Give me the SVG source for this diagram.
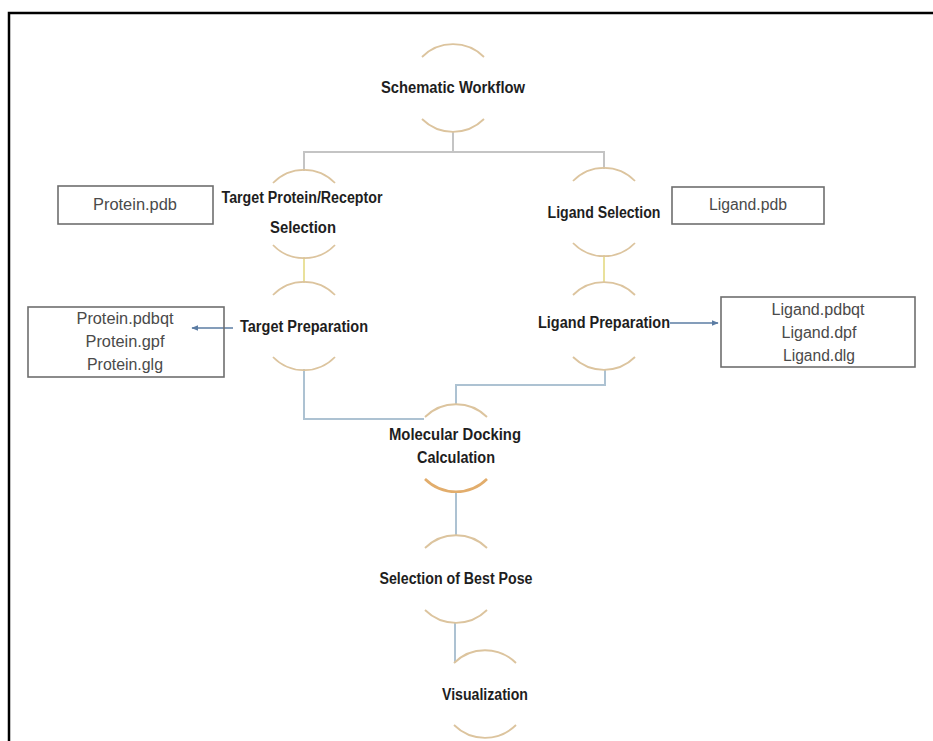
<svg xmlns="http://www.w3.org/2000/svg" width="933" height="741" viewBox="0 0 933 741">
<style>
.arc{fill:none;stroke:#dcc49e;stroke-width:1.8}
.arco{fill:none;stroke:#e2ad6c;stroke-width:2.6}
.t{font-family:"Liberation Sans",Arial,sans-serif;font-weight:bold;font-size:16px;fill:#1e1e1e;text-anchor:middle}
.r{font-family:"Liberation Sans",Arial,sans-serif;font-size:16px;fill:#4a4a4a;text-anchor:middle}
.box{fill:none;stroke:#6e6e6e;stroke-width:1.6}
.cg{fill:none;stroke:#c4c4c4;stroke-width:2}
.cy{fill:none;stroke:#e9e19c;stroke-width:2}
.cb{fill:none;stroke:#adc2d2;stroke-width:2}
.ca{fill:none;stroke:#5b7ca3;stroke-width:1.4}
</style>
<defs>
<marker id="ah" viewBox="0 0 10 10" refX="9" refY="5" markerWidth="7" markerHeight="7" orient="auto-start-reverse" markerUnits="userSpaceOnUse">
<path d="M0,1 L10,5 L0,9 z" fill="#5b7ca3"/>
</marker>
</defs>
<rect x="0" y="0" width="933" height="741" fill="#fff"/>
<path d="M9,741 V13 H933" fill="none" stroke="#000" stroke-width="2.5"/>

<g id="connectors">
<path class="cg" d="M453,132 V152 M304,171 V152 H604 V169"/>
<path class="cy" d="M304,257 V283"/>
<path class="cy" d="M604,255 V282"/>
<path class="cb" d="M304,369 V419 H424"/>
<path class="cb" d="M605,369 V385 H456 V404"/>
<path class="cb" d="M456,492 V535"/>
<path class="cb" d="M455,623 V663"/>
<line class="ca" x1="233" y1="328" x2="192" y2="328" marker-end="url(#ah)"/>
<line class="ca" x1="670" y1="323" x2="718" y2="323" marker-end="url(#ah)"/>
</g>

<g id="schematic-workflow">
<path class="arc" d="M422,57 A44,44 0 0 1 484,57"/>
<path class="arc" d="M422,119 A44,44 0 0 0 484,119"/>
<text class="t" x="453" y="93" textLength="144" lengthAdjust="spacingAndGlyphs">Schematic Workflow</text>
</g>

<g id="target-protein-selection">
<path class="arc" d="M273,183 A43,43 0 0 1 335,183"/>
<path class="arc" d="M273,245 A43,43 0 0 0 335,245"/>
<text class="t" x="302" y="203" textLength="161" lengthAdjust="spacingAndGlyphs">Target Protein/Receptor</text>
<text class="t" x="303" y="233" textLength="66" lengthAdjust="spacingAndGlyphs">Selection</text>
</g>

<g id="protein-pdb">
<rect class="box" x="58" y="186" width="155" height="38"/>
<text class="r" x="135" y="210" textLength="84" lengthAdjust="spacingAndGlyphs">Protein.pdb</text>
</g>

<g id="ligand-selection">
<path class="arc" d="M573,181 A43,43 0 0 1 635,181"/>
<path class="arc" d="M573,243 A43,43 0 0 0 635,243"/>
<text class="t" x="604" y="218" textLength="113" lengthAdjust="spacingAndGlyphs">Ligand Selection</text>
</g>

<g id="ligand-pdb">
<rect class="box" x="672" y="187" width="152" height="37"/>
<text class="r" x="748" y="210" textLength="78" lengthAdjust="spacingAndGlyphs">Ligand.pdb</text>
</g>

<g id="target-preparation">
<path class="arc" d="M273,295 A43,43 0 0 1 335,295"/>
<path class="arc" d="M273,357 A43,43 0 0 0 335,357"/>
<text class="t" x="304" y="332" textLength="128" lengthAdjust="spacingAndGlyphs">Target Preparation</text>
</g>

<g id="protein-files">
<rect class="box" x="28" y="307" width="196" height="70"/>
<text class="r" x="125" y="324" textLength="97" lengthAdjust="spacingAndGlyphs">Protein.pdbqt</text>
<text class="r" x="125" y="347" textLength="79" lengthAdjust="spacingAndGlyphs">Protein.gpf</text>
<text class="r" x="125" y="370" textLength="76" lengthAdjust="spacingAndGlyphs">Protein.glg</text>
</g>

<g id="ligand-preparation">
<path class="arc" d="M573,295 A44,44 0 0 1 635,295"/>
<path class="arc" d="M573,357 A44,44 0 0 0 635,357"/>
<text class="t" x="604" y="328" textLength="132" lengthAdjust="spacingAndGlyphs">Ligand Preparation</text>
</g>

<g id="ligand-files">
<rect class="box" x="721" y="297" width="194" height="70"/>
<text class="r" x="818" y="315" textLength="93" lengthAdjust="spacingAndGlyphs">Ligand.pdbqt</text>
<text class="r" x="819" y="338" textLength="75" lengthAdjust="spacingAndGlyphs">Ligand.dpf</text>
<text class="r" x="819" y="361" textLength="72" lengthAdjust="spacingAndGlyphs">Ligand.dlg</text>
</g>

<g id="molecular-docking">
<path class="arc" d="M425,417 A44,44 0 0 1 487,417"/>
<path class="arco" d="M425,479 A44,44 0 0 0 487,479"/>
<text class="t" x="455" y="440" textLength="132" lengthAdjust="spacingAndGlyphs">Molecular Docking</text>
<text class="t" x="456" y="463" textLength="78" lengthAdjust="spacingAndGlyphs">Calculation</text>
</g>

<g id="best-pose">
<path class="arc" d="M425,548 A44,44 0 0 1 487,548"/>
<path class="arc" d="M425,610 A44,44 0 0 0 487,610"/>
<text class="t" x="456" y="584" textLength="153" lengthAdjust="spacingAndGlyphs">Selection of Best Pose</text>
</g>

<g id="visualization">
<path class="arc" d="M454,663 A44,44 0 0 1 516,663"/>
<path class="arc" d="M454,725 A44,44 0 0 0 516,725"/>
<text class="t" x="485" y="700" textLength="86" lengthAdjust="spacingAndGlyphs">Visualization</text>
</g>
</svg>
